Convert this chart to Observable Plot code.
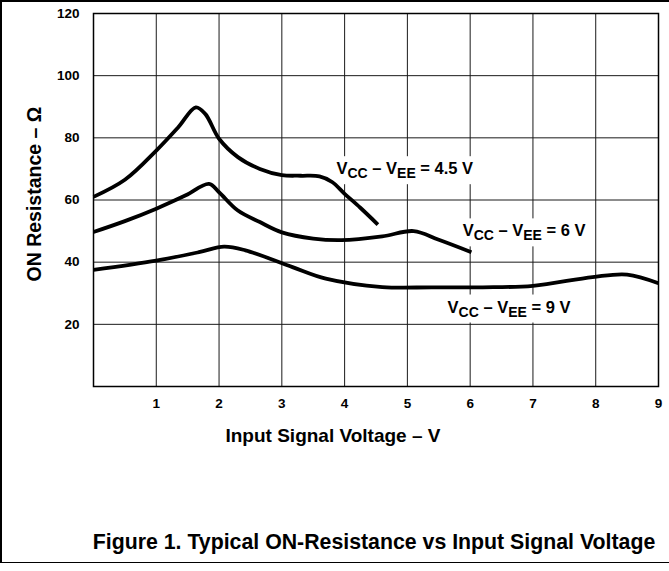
<!DOCTYPE html>
<html>
<head>
<meta charset="utf-8">
<script src="https://cdn.jsdelivr.net/npm/d3@7"></script>
<script src="https://cdn.jsdelivr.net/npm/@observablehq/plot@0.6"></script>
<style>
  html, body { margin: 0; padding: 0; background: #fff; overflow: hidden; }
  #wrap { position: relative; width: 669px; height: 571px; overflow: hidden; }
  .ln { position: absolute; background: #000; }
  svg { font-family: "Liberation Sans", Arial, sans-serif; }
</style>
</head>
<body>
<div id="wrap">
  <div class="ln" style="left:0;top:0;width:669px;height:1.5px"></div>
  <div class="ln" style="left:0;top:0;width:1.5px;height:563px"></div>
  <div class="ln" style="left:0;top:561.5px;width:669px;height:1.5px"></div>
</div>
<script>
// ---- data ----
const xTicks = [1, 2, 3, 4, 5, 6, 7, 8, 9];
const yTicks = [20, 40, 60, 80, 100, 120];

const v45x = [0, 0.5, 1.0, 1.35, 1.63, 1.78, 2.0, 2.3, 2.65, 3.0, 3.3, 3.6, 3.8, 4.0, 4.25, 4.53];
const v45y = [61, 66.5, 75.9, 83.4, 89.8, 87.7, 79.7, 73.8, 70.0, 68.0, 67.8, 67.6, 65.8, 62.0, 57.5, 52.1];

const v6x = [0, 0.5, 1.0, 1.47, 1.84, 2.0, 2.3, 2.65, 3.0, 3.5, 3.95, 4.6, 5.1, 5.5, 6.02];
const v6y = [49.7, 53.2, 57.2, 61.5, 65.2, 62.5, 56.6, 52.9, 49.6, 47.6, 47.1, 48.3, 50.0, 47.2, 43.2];

const v9x = [0, 1.0, 1.68, 2.08, 2.42, 3.17, 3.7, 4.6, 5.4, 6.2, 7.0, 7.95, 8.5, 9.0];
const v9y = [37.5, 40.5, 43.2, 45.0, 43.8, 38.4, 34.7, 32.0, 31.9, 31.9, 32.4, 35.2, 36.0, 33.2];

const labelX = [3.87, 5.88, 5.64];
const labelY = [70.0, 50.0, 25.5];
const labelValue = ["4.5 V", "6 V", "9 V"];

const xTitle = "Input Signal Voltage – V";
const yTitle = "ON Resistance – Ω";
const caption = "Figure 1. Typical ON-Resistance vs Input Signal Voltage";

// ---- build ----
const series = [
  ...v45x.map((x, i) => ({x, y: v45y[i], s: "4.5"})),
  ...v6x.map((x, i) => ({x, y: v6y[i], s: "6"})),
  ...v9x.map((x, i) => ({x, y: v9y[i], s: "9"}))
];
const labels = labelX.map((x, i) => ({x, y: labelY[i], v: labelValue[i]}));

const W = 669, H = 571;
const chart = Plot.plot({
  width: W, height: H,
  marginTop: 13, marginLeft: 93, marginRight: 11, marginBottom: 185,
  style: {fontFamily: "'Liberation Sans', Arial, sans-serif", background: "transparent"},
  x: {domain: [0, 9]},
  y: {domain: [0, 120]},
  marks: [
    Plot.ruleX(xTicks.slice(0, -1), {stroke: "#1a1a1a", strokeWidth: 1}),
    Plot.ruleY(yTicks.slice(0, -1), {stroke: "#1a1a1a", strokeWidth: 1}),
    Plot.frame({stroke: "#000", strokeWidth: 1.5}),
    Plot.axisX(xTicks, {tickSize: 0, tickPadding: 12, fontSize: 13.5, fontWeight: "bold", label: null, fill: "#000"}),
    Plot.axisY(yTicks, {tickSize: 0, tickPadding: 14, fontSize: 13.5, fontWeight: "bold", label: null, fill: "#000"}),
    Plot.text(labels, {x: "x", y: "y", text: d => "V", textAnchor: "start", fontSize: 16.5, fontWeight: "bold", fill: "#000", className: "rlabel"}),
    Plot.line(series, {x: "x", y: "y", z: "s", curve: "catmull-rom", stroke: "#000", strokeWidth: 3.8, strokeLinecap: "butt"})
  ]
});

const svg = d3.select(chart);
// rich labels with subscripts and white boxes
svg.selectAll(".rlabel text").each(function(_, i) {
  const t = d3.select(this);
  t.text(null);
  const v = labels[i].v;
  t.append("tspan").text("V");
  t.append("tspan").attr("dy", 4).attr("font-size", 14).text("CC");
  t.append("tspan").attr("dy", -4).text(" – V");
  t.append("tspan").attr("dy", 4).attr("font-size", 14).text("EE");
  t.append("tspan").attr("dy", -4).text(" = " + v);
});
document.getElementById("wrap").appendChild(chart);
chart.style.position = "absolute"; chart.style.left = "0"; chart.style.top = "0";
svg.selectAll(".rlabel text").each(function() {
  const b = this.getBBox();
  const tr = this.getAttribute("transform");
  const r = d3.select(this.parentNode).insert("rect", () => this)
    .attr("x", b.x - 5).attr("y", b.y - 3).attr("width", b.width + 10).attr("height", b.height + 6)
    .attr("fill", "#fff");
  if (tr) r.attr("transform", tr);
});
// titles
svg.append("text").attr("x", 333).attr("y", 442).attr("text-anchor", "middle")
  .attr("font-size", 19).attr("font-weight", "bold").attr("fill", "#000").text(xTitle);
svg.append("text").attr("transform", "translate(41,194) rotate(-90)").attr("text-anchor", "middle")
  .attr("font-size", 19.5).attr("font-weight", "bold").attr("fill", "#000").text(yTitle);
svg.append("text").attr("x", 374).attr("y", 549).attr("text-anchor", "middle")
  .attr("font-size", 21.3).attr("font-weight", "bold").attr("fill", "#000").text(caption);
</script>
</body>
</html>
